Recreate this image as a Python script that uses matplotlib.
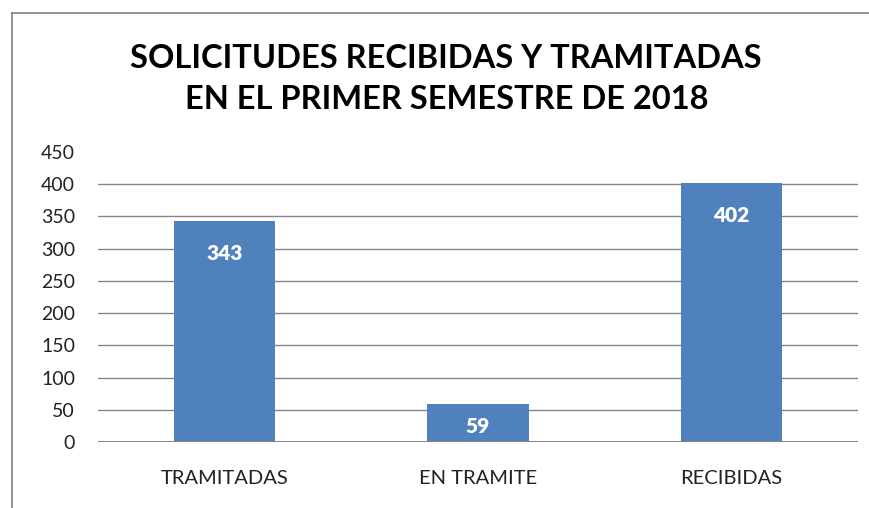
import matplotlib.pyplot as plt
from matplotlib.lines import Line2D
import numpy as np

categories = ['TRAMITADAS', 'EN TRAMITE', 'RECIBIDAS']
values = [343, 59, 402]
title = 'SOLICITUDES RECIBIDAS Y TRAMITADAS\nEN EL PRIMER SEMESTRE DE 2018'

plt.rcParams['font.family'] = ['Lato', 'DejaVu Sans']

fig = plt.figure(figsize=(8.7, 5.08), dpi=100)
ax = fig.add_axes([98/870, 1 - 442/508, 760/870, 290/508])

x = np.arange(len(categories))
bars = ax.bar(x, values, width=0.4, color='#4F81BD', zorder=3)

ax.set_xlim(-0.5, len(categories) - 0.5)
ax.set_ylim(0, 450)
ax.set_yticks(np.arange(0, 451, 50))
for yv in np.arange(50, 401, 50):
    ax.axhline(yv, color='#868686', lw=1, zorder=1)
ax.axhline(0, color='#868686', lw=2.2, zorder=4)

for s in ax.spines.values():
    s.set_visible(False)
ax.tick_params(axis='both', length=0, colors='#222222')
ax.tick_params(axis='y', pad=16.5, labelsize=14)
ax.tick_params(axis='x', pad=20, labelsize=14.5)
ax.set_xticks(x)
ax.set_xticklabels(categories)

for b, v in zip(bars, values):
    ypos = max(v - 50, v * 0.4)
    ax.text(b.get_x() + b.get_width() / 2, ypos, str(v), ha='center', va='center',
            color='white', fontweight='heavy', fontsize=15, zorder=5)

fig.text(0.513, 1 - 79/508, title, ha='center', va='center', fontsize=23.5,
         fontweight='bold', linespacing=1.5, color='black')

# outer frame (left and top edges of the chart box)
fig.add_artist(Line2D([12.5/870, 12.5/870], [0, 1 - 13/508], color='#808080', lw=1.2))
fig.add_artist(Line2D([12.5/870, 1], [1 - 13/508, 1 - 13/508], color='#808080', lw=1.2))

fig.savefig('out.png', dpi=100)
